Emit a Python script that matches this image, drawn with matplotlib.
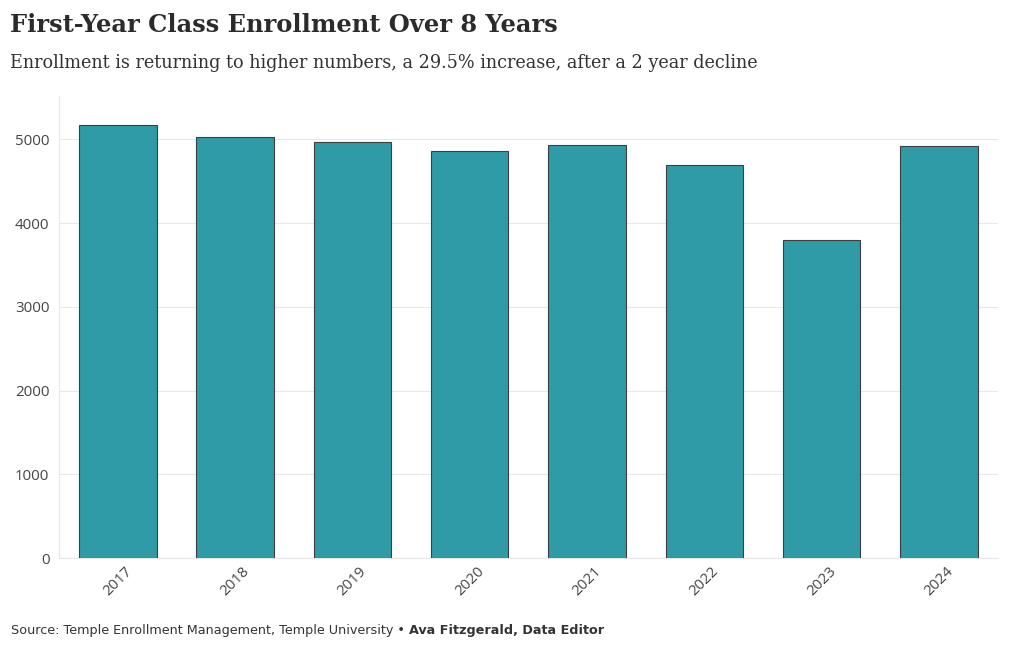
import matplotlib.pyplot as plt
import numpy as np

years = ['2017', '2018', '2019', '2020', '2021', '2022', '2023', '2024']
enrollment = [5167, 5024, 4964, 4857, 4928, 4690, 3795, 4916]
yticks = [0, 1000, 2000, 3000, 4000, 5000]

fig = plt.figure(figsize=(10.2, 6.5), dpi=100)
ax = fig.add_axes([0.058, 0.1415, 0.92, 0.7105])

x = np.arange(len(years))
ax.bar(x, enrollment, width=0.66, color='#1d93a0', alpha=0.92,
       edgecolor='#333333', linewidth=0.8, zorder=3)

ax.set_xlim(-0.5, len(years) - 0.5)
ax.set_ylim(0, 5515)
ax.set_xticks(x)
ax.set_xticklabels(years, rotation=45, family='Open Sans', fontsize=10.8, color='#444444')
ax.set_yticks(yticks)
ax.set_yticklabels([str(v) for v in yticks], family='Open Sans', fontsize=10.8, color='#444444')
ax.tick_params(axis='both', length=0, pad=7)
ax.tick_params(axis='x', pad=4)
ax.grid(axis='y', color='#e8e8e8', linewidth=0.8, zorder=0)
for s in ['top', 'right']:
    ax.spines[s].set_visible(False)
ax.spines['left'].set_color('#e6e6e6')
ax.spines['bottom'].set_color('#e6e6e6')

fig.text(0.010, 0.962, 'First-Year Class Enrollment Over 8 Years', family='DejaVu Serif',
         fontsize=17.4, fontweight='bold', color='#2b2b2b', va='center')
fig.text(0.010, 0.903, 'Enrollment is returning to higher numbers, a 29.5% increase, after a 2 year decline',
         family='DejaVu Serif', fontsize=12.7, color='#333333', va='center')

src = fig.text(0.011, 0.030, 'Source: Temple Enrollment Management, Temple University \u2022 ',
               family=['DejaVu Sans'], fontsize=9.2, color='#333333', va='center')
fig.canvas.draw()
bb = src.get_window_extent(renderer=fig.canvas.get_renderer())
x1 = fig.transFigure.inverted().transform((bb.x1, bb.y0))[0]
fig.text(x1, 0.030, 'Ava Fitzgerald, Data Editor', family='DejaVu Sans', fontsize=9.2,
         fontweight='bold', color='#333333', va='center')

fig.savefig('out.png', dpi=100)
